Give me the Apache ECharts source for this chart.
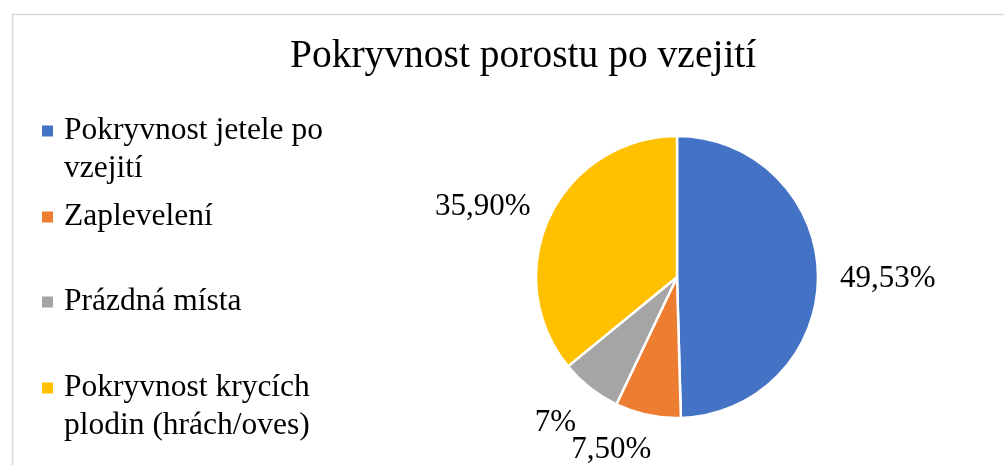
<!DOCTYPE html>
<html>
<head>
<meta charset="utf-8">
<title>Pokryvnost porostu po vzejití</title>
<script src="https://cdn.jsdelivr.net/npm/echarts@6/dist/echarts.min.js"></script>
<style>
  html, body { margin: 0; padding: 0; background: #fff; }
  #chart { width: 1004px; height: 465px; }
</style>
</head>
<body>
<div id="chart"></div>
<script>
const categories = ['Pokryvnost jetele po vzejití', 'Zaplevelení', 'Prázdná místa', 'Pokryvnost krycích plodin (hrách/oves)']
const values = [49.53, 7.5, 7, 35.9]
const valueLabels = ['49,53%', '7,50%', '7%', '35,90%']

const colors = ['#4472C4', '#ED7D31', '#A5A5A5', '#FFC000']
const font = 'Liberation Serif, Times New Roman, serif'

const chart = echarts.init(document.getElementById('chart'))

// one legend per item so the vertical spacing can follow the excel layout
const legendTops = [74, 198, 283, 331]
const legends = categories.map((name, i) => {
  const twoLines = i === 0 || i === 3
  return {
    orient: 'vertical',
    left: 42,
    top: legendTops[i],
    padding: 0,
    icon: 'rect',
    itemWidth: 11,
    itemHeight: 11,
    itemStyle: { borderWidth: 0 },
    selectedMode: false,
    data: [name],
    // empty first line keeps the icon level with the first text line
    formatter: (n) => (twoLines ? '\n' + n : n),
    textStyle: {
      fontFamily: font,
      fontSize: 31.5,
      lineHeight: 38,
      color: '#000',
      width: 285,
      overflow: 'break',
      padding: [0, 0, 0, 6]
    }
  }
})

const option = {
  backgroundColor: '#fff',
  animation: false,
  color: colors,
  title: {
    text: 'Pokryvnost porostu po vzejití',
    left: 290,
    top: 37,
    padding: 0,
    textStyle: {
      fontFamily: font,
      fontSize: 39.5,
      fontWeight: 'normal',
      color: '#000'
    }
  },
  legend: legends,
  graphic: [
    {
      type: 'rect',
      left: 10,
      top: 12,
      shape: { width: 1000, height: 470 },
      style: { fill: 'none', stroke: '#d9d9d9', lineWidth: 1.5 },
      silent: true
    }
  ],
  series: [
    {
      type: 'pie',
      center: [677, 277],
      radius: 141,
      startAngle: 90,
      avoidLabelOverlap: false,
      data: categories.map((name, i) => {
        const item = { name: name, value: values[i] }
        if (i === 2) item.labelLine = { length: 39 }
        return item
      }),
      itemStyle: {
        borderColor: '#fff',
        borderWidth: 2.5
      },
      label: {
        show: true,
        position: 'outside',
        distanceToLabelLine: 0,
        fontFamily: font,
        fontSize: 31,
        color: '#000',
        formatter: (p) => valueLabels[p.dataIndex]
      },
      labelLine: {
        show: false,
        length: 32,
        length2: -10
      },
      labelLayout: () => ({ dy: 4 })
    }
  ]
}

chart.setOption(option)
</script>
</body>
</html>
